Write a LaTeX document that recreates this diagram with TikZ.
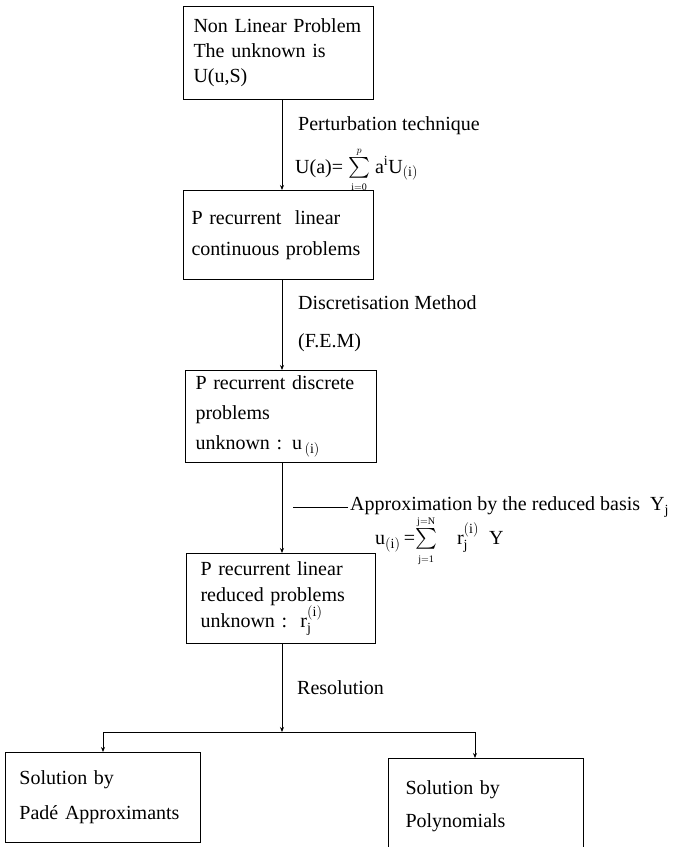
\documentclass[tikz,border=0pt]{standalone}
\usepackage{fontspec}
\setmainfont{Liberation Serif}
\usepackage{amsmath}
\usetikzlibrary{arrows.meta}

\tikzset{
  stage/.style={draw, line width=1pt, anchor=north west, align=left,
    inner xsep=10pt, inner ysep=0pt, font=\fontsize{20}{25}\selectfont},
  flow/.style={line width=0.9pt, -{Stealth[length=5pt,width=4pt]}},
  note/.style={anchor=west, inner sep=0pt, font=\fontsize{20}{25}\selectfont}
}

\begin{document}
\begin{tikzpicture}[x=1pt,y=-1pt]
    \useasboundingbox (0,0) rectangle (685,847);
    % Boxes of the main chain
    \node[stage, text width=170pt, minimum height=93pt] (nlp) at (183,6)
        {Non Linear Problem\\The unknown is\\U(u,S)};
    \node[stage, text width=174pt, minimum height=89pt, inner xsep=8pt,
        font=\fontsize{20}{31}\selectfont] (cont) at (183,190)
        {P recurrent\ \ linear\\continuous problems};
    \node[stage, text width=171pt, minimum height=92pt,
        font=\fontsize{20}{30}\selectfont] (disc) at (185,370)
        {P recurrent discrete\\problems\\unknown : u$_{\,(\mathrm{i})}$};
    \node[stage, text width=161pt, minimum height=90pt, inner xsep=14pt,
        font=\fontsize{20}{26}\selectfont] (red) at (186,553)
        {P recurrent linear\\reduced problems\\unknown :\ \ r$_{\mathrm{j}}^{(\mathrm{i})}$};
    % Boxes of the two solutions
    \node[stage, text width=167pt, minimum height=90pt, inner xsep=14pt,
        font=\fontsize{20}{35}\selectfont] (pade) at (5,752)
        {Solution by\\Padé Approximants};
    \node[stage, text width=161pt, minimum height=95pt, inner xsep=17pt,
        font=\fontsize{20}{33}\selectfont] (poly) at (388,758)
        {Solution by\\Polynomials};

    % Connectors
    \coordinate (trunk) at (282,0); % Vertical line of the chain
    \draw[flow] (nlp.south -| trunk) -- (cont.north -| trunk);
    \draw[flow] (cont.south -| trunk) -- (disc.north -| trunk);
    \draw[flow] (disc.south -| trunk) -- (red.north -| trunk);
    \coordinate (split) at (282,732); % Branch point
    \draw[flow] (red.south -| trunk) -- (split);
    \draw[flow] (split) -| (pade.north);
    \draw[flow] (split) -| ([xshift=-11pt]poly.north);

    % Labels of the steps
    \node[note] (pert) at (298,126) {Perturbation technique};
    \node[note] (pertsum) at (295,170)
        {U(a)= $\sum\limits_{\scriptscriptstyle\mathrm{i=0}}^{\scriptscriptstyle p}$ a$^{\mathrm{i}}$U$_{(\mathrm{i})}$};
    \node[note] (fem) at (298,303) {Discretisation Method};
    \node[note] (femabbr) at (298,343) {(F.E.M)};
    \node[note] (approx) at (350,507) {Approximation by the reduced basis\ \ Y$_{\mathrm{j}}$};
    \draw[line width=1pt] ([xshift=-2pt]approx.west) -- ++(-55,0);
    \node[note] (approxsum) at (375,541)
        {u$_{(\mathrm{i})}$\,=$\sum\limits_{\scriptscriptstyle\mathrm{j=1}}^{\scriptscriptstyle\mathrm{j=N}}$\quad r$_{\mathrm{j}}^{(\mathrm{i})}$\ \ Y};
    \node[note] (resol) at (297,688) {Resolution};
\end{tikzpicture}
\end{document}
